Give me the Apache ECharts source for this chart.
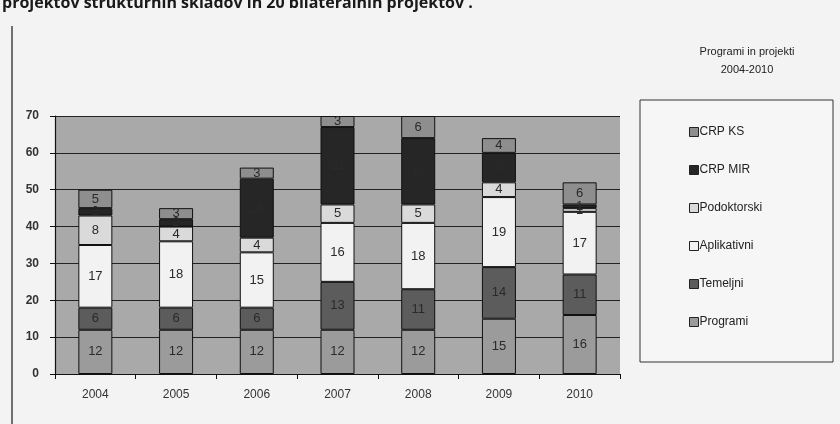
<!DOCTYPE html>
<html><head><meta charset="utf-8">
<script src="https://cdn.jsdelivr.net/npm/echarts@6/dist/echarts.min.js"></script>
<style>html,body{margin:0;padding:0;background:#f3f3f3;}#c{width:840px;height:424px;}</style>
</head><body><div id="c"></div>
<script>
var years = ['2004','2005','2006','2007','2008','2009','2010'];
var programi    = [12, 12, 12, 12, 12, 15, 16];
var temeljni    = [6, 6, 6, 13, 11, 14, 11];
var aplikativni = [17, 18, 15, 16, 18, 19, 17];
var podoktorski = [8, 4, 4, 5, 5, 4, 1];
var crpMir      = [2, 2, 16, 21, 18, 8, 1];
var crpKs       = [5, 3, 3, 3, 6, 4, 6];
var yTicks = [0, 10, 20, 30, 40, 50, 60, 70];

var seriesDefs = [
  {name:'Programi', data:programi, color:'#9b9b9b'},
  {name:'Temeljni', data:temeljni, color:'#5c5c5c'},
  {name:'Aplikativni', data:aplikativni, color:'#f2f2f2'},
  {name:'Podoktorski', data:podoktorski, color:'#dadada'},
  {name:'CRP MIR', data:crpMir, color:'#262626'},
  {name:'CRP KS', data:crpKs, color:'#8e8e8e'}
];

var chart = echarts.init(document.getElementById('c'));
chart.setOption({
  backgroundColor:'#f3f3f3',
  animation:false,
  title:{
    text:'Programi in projekti\n2004-2010',
    left:742, top:38, textAlign:'center',
    textStyle:{fontFamily:'Liberation Sans', fontSize:11, fontWeight:'normal', color:'#222', lineHeight:18}
  },
  graphic:[
    {type:'text', left:2, top:-5, style:{text:'projektov strukturnih skladov in 20 bilateralnih projektov .', font:'bold 16px "Open Sans"', fill:'#1a1a1a'}},
    {type:'line', shape:{x1:12, y1:26, x2:12, y2:424}, style:{stroke:'#444', lineWidth:1.5}},
    {type:'rect', shape:{x:640, y:100, width:193, height:262}, style:{fill:'#f6f6f6', stroke:'#333', lineWidth:1}, z:-1}
  ],
  legend:{
    orient:'vertical', left:684, top:121, itemGap:26, itemWidth:9, itemHeight:9,
    data:['CRP KS','CRP MIR','Podoktorski','Aplikativni','Temeljni','Programi'],
    textStyle:{fontFamily:'Liberation Sans', fontSize:12, color:'#222', padding:[0,0,0,-4]},
    icon:'rect', itemStyle:{borderColor:'#222', borderWidth:1}
  },
  grid:{left:55, right:220, top:116, bottom:50, show:true, backgroundColor:'#a9a9a9', borderWidth:0},
  xAxis:{
    type:'category', data:years,
    axisLine:{lineStyle:{color:'#111', width:1.2}},
    axisTick:{show:true, alignWithLabel:false, length:5, lineStyle:{color:'#111'}},
    axisLabel:{fontFamily:'Liberation Sans', fontSize:12, color:'#333', margin:15}
  },
  yAxis:{
    type:'value', min:0, max:70, interval:10,
    axisLine:{show:true, lineStyle:{color:'#111', width:1.2}},
    axisTick:{show:true, length:5, lineStyle:{color:'#111'}},
    axisLabel:{fontFamily:'Liberation Sans', fontSize:12, color:'#333', fontWeight:'bold', margin:16,
      formatter:function(v){return yTicks.indexOf(v)>=0? String(v):'';}},
    splitLine:{lineStyle:{color:'#222', width:1}}
  },
  series: seriesDefs.map(function(s){
    return {
      name:s.name, type:'bar', stack:'all', data:s.data, barWidth:34,
      itemStyle:{color:s.color, borderColor:'#111', borderWidth:1},
      label:{show:true, position:'inside', fontFamily:'Liberation Sans', fontSize:13, color:'#2a2a2a'}
    };
  })
});
</script></body></html>
